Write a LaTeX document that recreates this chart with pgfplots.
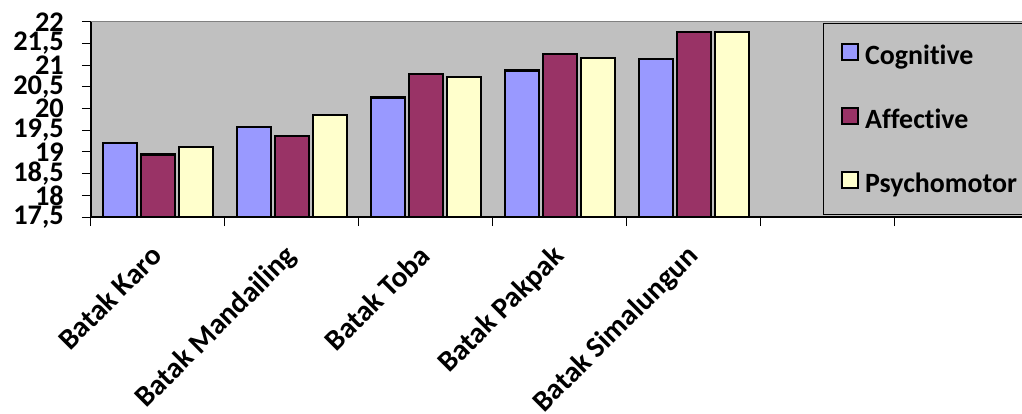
\documentclass[border=0pt]{standalone}
\usepackage{fontspec}
\setmainfont{Carlito}[Ligatures=NoCommon]
\usepackage{pgfplots}
\pgfplotsset{compat=1.18}
\definecolor{cogn}{HTML}{9999FF}
\definecolor{affe}{HTML}{993366}
\definecolor{psyc}{HTML}{FFFFCC}
\definecolor{plotbg}{HTML}{C0C0C0}
\begin{document}
\begin{tikzpicture}
\begin{axis}[
  scale only axis,
  width=931bp, height=195.3bp,
  xmin=-0.5, xmax=6.448,
  ymin=17.5, ymax=22,
  ytick={17.5,18,18.5,19,19.5,20,20.5,21,21.5,22},
  axis background/.style={fill=plotbg},
  axis x line*=bottom, axis y line*=left,
  axis line style={black, line width=1.2bp},
  ybar, bar width=34bp,
  xtick={0,1,2,3,4},
  xticklabels={Batak Karo, Batak Mandailing, Batak Toba, Batak Pakpak, Batak Simalungun},
  minor xtick={-0.5,0.5,1.5,2.5,3.5,4.5,5.5},
  major x tick style={draw=none},
  tick style={black, line width=1bp},
  tick align=outside,
  major tick length=9bp, minor tick length=9bp,
  /pgf/number format/assume math mode=true,
  /pgf/number format/use comma,
  ticklabel style={font=\bfseries\fontsize{28.5}{28.5}\selectfont},
  y tick label style={inner sep=0pt, xshift=-18bp},
  x tick label style={xshift=-9bp, yshift=-17bp, rotate=45, anchor=north east, inner sep=0pt,
    font=\bfseries\fontsize{29.5}{29.5}\selectfont},
  every axis plot/.append style={draw=black, line width=2.4bp},
  legend style={at={(0.786,0.995)}, anchor=north west, fill=plotbg, draw=black, line width=0.8bp,
    font=\bfseries\fontsize{28}{28}\selectfont,
    nodes={inner sep=0pt, text height=23bp, text depth=4bp},
    row sep=37bp, column sep=6bp, inner xsep=18bp, inner ysep=18bp},
  legend cell align=left,
  legend image code/.code={\draw[#1, line width=2bp] (0bp,-5bp) rectangle (16bp,11bp);},
]
\addplot[fill=cogn, bar shift=-38bp] coordinates {(0,19.21) (1,19.58) (2,20.25) (3,20.88) (4,21.14)};
\addplot[fill=affe, bar shift=0bp] coordinates {(0,18.94) (1,19.36) (2,20.79) (3,21.26) (4,21.76)};
\addplot[fill=psyc, bar shift=38bp] coordinates {(0,19.11) (1,19.85) (2,20.73) (3,21.16) (4,21.76)};
\legend{Cognitive, Affective, Psychomotor}
\draw[gray, line width=1.2bp] (rel axis cs:0,1) -- (rel axis cs:1,1);
\coordinate (O) at (rel axis cs:0,0);
\end{axis}
\pgfresetboundingbox
\path (O) ++(-91bp,-197bp) rectangle ++(1022bp,414bp);
\end{tikzpicture}
\end{document}
